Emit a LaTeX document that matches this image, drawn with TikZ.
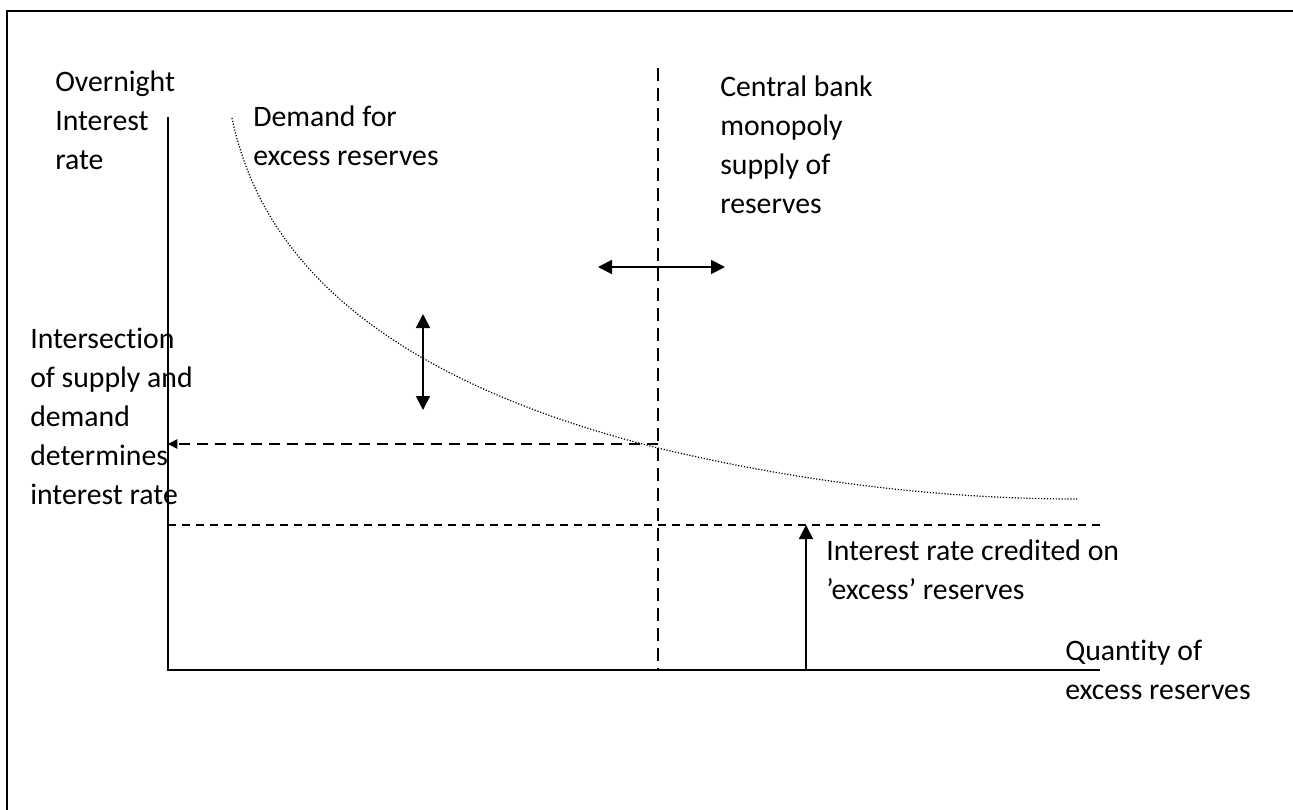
\documentclass[tikz,border=0pt]{standalone}
\usepackage{fontspec}
\setmainfont{Carlito}[Ligatures={NoCommon}]
\usetikzlibrary{arrows.meta}
\begin{document}
\begin{tikzpicture}[x=0.75pt,y=-0.75pt,
  lbl/.style={anchor=north west,inner sep=0pt,align=left,font=\fontsize{22.3}{29.25}\selectfont},
  axis/.style={line width=1.4pt},
  frameline/.style={line width=1.5pt},
  vdash/.style={line width=1.3pt,dash pattern=on 10pt off 5pt},
  hdash/.style={line width=1.3pt,dash pattern=on 8pt off 5.5pt},
  fdash/.style={line width=0.9pt,dash pattern=on 6pt off 4.5pt},
  demand/.style={line width=0.9pt,dash pattern=on 0.9pt off 1.3pt},
  dbl/.style={line width=1.4pt,{Triangle[length=10.5pt,width=10.5pt]}-{Triangle[length=10.5pt,width=10.5pt]}},
  up/.style={line width=1.4pt,-{Triangle[length=10.5pt,width=10.5pt]}},
  lefttip/.style={-{Triangle[length=7pt,width=7pt]}}]
\useasboundingbox (0,0) rectangle (1293,810);
\coordinate (fb) at (7,810);
\coordinate (fc) at (7,11);
\coordinate (fr) at (1293,11);
\draw[frameline] (fb) -- (fc) -- (fr);
% axes
\coordinate (O) at (168,670);
\coordinate (ytop) at (168,117);
\coordinate (xend) at (1100,670);
\draw[axis] (ytop) -- (O) -- (xend);
% supply line
\coordinate (vtop) at (658,68);
\coordinate (vbot) at (658,670);
\draw[vdash] (vtop) -- (vbot);
% equilibrium arrow
\coordinate (eq) at (658,444);
\coordinate (eqL) at (168,444);
\draw[hdash,lefttip] (eq) -- (eqL);
% floor
\coordinate (flL) at (168,525);
\coordinate (flR) at (1100,525);
\draw[fdash] (flL) -- (flR);
\coordinate (arB) at (806,670);
\coordinate (arT) at (806,525);
\draw[up] (arB) -- (arT);
% double arrows
\coordinate (daT) at (423,314);
\coordinate (daB) at (423,410);
\draw[dbl] (daT) -- (daB);
\coordinate (haL) at (598,267);
\coordinate (haR) at (725,267);
\draw[dbl] (haL) -- (haR);
% demand curve
\coordinate (dS) at (232,118);
\coordinate (dM) at (658,448);
\coordinate (dE) at (1077,499);
\draw[demand] (dS) .. controls (255,228) and (340,368) .. (dM)
  .. controls (808,484) and (950,499) .. (dE);
% labels
\node[lbl] (ylab) at (55,71) {Overnight\\Interest\\rate};
\node[lbl] (dlab) at (253,106) {Demand for\\excess reserves};
\node[lbl] (slab) at (720,76) {Central bank\\monopoly\\supply of\\reserves};
\node[lbl] (ilab) at (30,328) {Intersection\\of supply and\\demand\\determines\\interest rate};
\node[lbl] (flab) at (826,540) {Interest rate credited on\\’excess’ reserves};
\node[lbl] (xlab) at (1065,640) {Quantity of\\excess reserves};
\end{tikzpicture}
\end{document}
